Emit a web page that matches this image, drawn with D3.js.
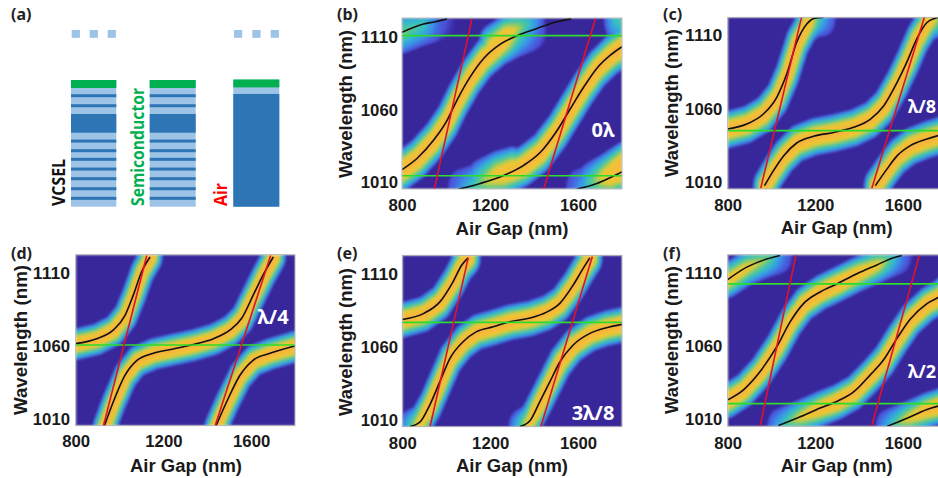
<!DOCTYPE html>
<html><head><meta charset="utf-8">
<script src="https://cdn.jsdelivr.net/npm/d3@7"></script>
<style>html,body{margin:0;padding:0;background:#fff;overflow:hidden}svg{display:block}</style>
</head><body><div id="chart"></div>
<script>
// ---- data: each curve point is [air gap nm, wavelength nm, heat strength 0..1] ----
const gapTicks = [800, 1200, 1600];
const wavelengthTicks = [1010, 1060, 1110];

const curvesB = [
  [[800,1113.7,.45],[898,1119.4,.3],[950,1121,.05],[1005,1123,0]],
  [[800,1019,1],[868,1026.7,1],[944,1039.4,1],[1005,1053,1],[1050,1067,1],[1110,1083,1],[1171,1095.7,1],[1247,1105.6,.9],[1323,1111.4,.4],[1414,1116.4,0],[1505,1121,0],[1569,1123,0]],
  [[1058,1005.6,.1],[1156,1009.5,.45],[1262,1015,.8],[1353,1022,1],[1429,1031,1],[1505,1046,1],[1565,1061,1],[1626,1076,1],[1686,1089,1],[1747,1098,1],[1800,1103.8,1]],
  [[1595,1005.6,.1],[1686,1009.5,.45],[1747,1013.6,.8],[1800,1017.5,.9]]
];
const heatExtraB = [
  [[1200,1105,.7],[1270,1112,.85],[1330,1117,.5],[1390,1121,.2]],
  [[1150,1012,.4],[1230,1018,.7],[1300,1021,.8]],
  [[1650,1010,.35],[1720,1016,.7],[1800,1024,.95]],
  [[1770,1122,.3],[1800,1120,.35]]
];
const redB = [[[947,1005.6],[1118,1123]],[[1444,1005.6],[1679,1123]]];
const greenB = [1111.4,1014.8];

const curvesC = [
  [[800,1046.4,1],[887,1049.8,1],[963,1056.6,1],[1024,1068,1],[1070,1084,1],[1115,1105.5,1],[1161,1118,.9],[1199,1122,.45],[1237,1122.5,.15]],
  [[968,1007.7,1],[1009,1018,1],[1055,1028,1],[1115,1036.8,1],[1192,1041.4,1],[1283,1044,1],[1375,1047.5,1],[1451,1053,1],[1512,1062,1],[1573,1078,1],[1618,1092,1],[1664,1108,1],[1710,1119,.9],[1763,1122.5,.4]],
  [[1474,1007.7,1],[1527,1019,1],[1573,1028,1],[1634,1035,1],[1710,1039.5,1],[1763,1042,1],[1800,1043.5,1]]
];
const redC = [[[951,1006],[1138,1123]],[[1458,1006],[1699,1123]]];
const greenC = [1045.2];

const curvesD = [
  [[800,1061.6,1],[896,1065,1],[972,1071,1],[1025,1081,1],[1063,1095,1],[1101,1111,1],[1139,1121,1]],
  [[931,1005.4,1],[972,1022,1],[1025,1040,1],[1078,1050,1],[1154,1055,1],[1245,1058,1],[1337,1061,1],[1428,1065,1],[1504,1071,1],[1557,1079,1],[1610,1095,1],[1656,1109,1],[1701,1121,1]],
  [[1440,1005.4,1],[1489,1022,1],[1549,1040,1],[1610,1050.4,1],[1686,1055,1],[1800,1060,1]]
];
const redD = [[[926,1005],[1124,1122]],[[1435,1005],[1689,1122]]];
const greenD = [1060.7];

const curvesE = [
  [[800,1079,1],[896,1083,1],[971,1091,1],[1032,1105,1],[1070,1116,1],[1100,1121,1]],
  [[835,1006,.3],[880,1009,.8],[926,1021,1],[971,1036.6,1],[1017,1052.5,1],[1078,1064,1],[1138,1070.7,1],[1214,1074,1],[1290,1077.5,1],[1381,1080,1],[1457,1084,1],[1517,1090,1],[1578,1102.5,1],[1624,1114,1],[1654,1121,1]],
  [[1335,1006,.3],[1381,1010,.8],[1426,1023,1],[1472,1036.6,1],[1517,1050,1],[1578,1061.6,1],[1654,1069.5,1],[1729,1073.4,1],[1800,1075.7,1]]
];
const redE = [[[926,1005.7],[1100,1121]],[[1430,1005.7],[1665,1122]]];
const greenE = [1077];

const curvesF = [
  [[800,1106,.8],[887,1114.5,.7],[978,1120,.45],[1039,1122.5,.1]],
  [[800,1023.6,1],[872,1030.5,1],[948,1043,1],[1024,1060,1],[1085,1077,1],[1146,1089.5,1],[1222,1097.5,1],[1298,1103,1],[1390,1110,.9],[1481,1116,.7],[1557,1121,.25],[1595,1122.5,0]],
  [[1032,1006,.2],[1131,1012,.65],[1222,1018,.9],[1298,1022.5,1],[1375,1029,1],[1451,1040.7,1],[1512,1051,1],[1573,1065.7,1],[1634,1079,1],[1710,1089.5,1],[1763,1094,1],[1800,1099,1]],
  [[1527,1005.4,.2],[1619,1011,.65],[1710,1017,.9],[1763,1019.5,1],[1800,1022,1]]
];
const redF = [[[948,1005.5],[1111,1122.5]],[[1457,1005.5],[1675,1122.5]]];
const greenF = [1103,1021];

// schematic (a): depth 0 = top of stack, 1 = bottom
const dbrLines = [.124,.203,.482,.558,.626,.703,.779,.858,.934];
const activeLayer = [.268,.416];
const capLayer = [0,.063];
const airLayer = [.11,1];
const stackNames = ["VCSEL","Semiconductor","Air"];

// colours along the heat value
const heatStops = [0,.015,.13,.26,.38,.5,.62,.8,1];
const heatColors = ["#38259b","#4a50d8","#3a90ea","#35bcc8","#55c890","#b0cc50","#ecc832","#f5bc3a","#f6b03c"];

// ---- layout ----
const W = 938, H = 478;
const panels = [
 {id:"b",curves:curvesB,extra:heatExtraB,red:redB,green:greenB,L:402,R:622,T:18,B:189,y0:182.7,y1:37.7,hx:12,hy:21,
  yl:{x:351.7,y:104,len:148},xl:{x:512,y:235,len:113},yr:398,xb:211,tag:{x:337,y:20,t:"(b)"},note:{t:"0λ",x:603,y:137,a:"middle",s:20}},
 {id:"c",curves:curvesC,extra:[],red:redC,green:greenC,L:727.7,R:946.7,T:17.3,B:189,y0:182.3,y1:35.7,hx:12,hy:19,
  yl:{x:678,y:103,len:148},xl:{x:836.7,y:234,len:112},yr:722.3,xb:210.7,tag:{x:663,y:20,t:"(c)"},note:{t:"λ/8",x:908,y:113,a:"start",s:18}},
 {id:"d",curves:curvesD,extra:[],red:redD,green:greenD,L:75.7,R:295,T:254.7,B:425.7,y0:419,y1:273,hx:12,hy:16,
  yl:{x:26.7,y:340,len:150},xl:{x:186,y:472,len:112},yr:70,xb:447,tag:{x:11,y:259,t:"(d)"},note:{t:"λ/4",x:273,y:324,a:"middle",s:20}},
 {id:"e",curves:curvesE,extra:[],red:redE,green:greenE,L:402.3,R:622,T:255.3,B:426.7,y0:420.7,y1:274,hx:12,hy:18,
  yl:{x:351.7,y:342,len:148},xl:{x:512,y:472,len:112},yr:398,xb:448.7,tag:{x:337,y:259,t:"(e)"},note:{t:"3λ/8",x:593,y:420,a:"middle",s:20}},
 {id:"f",curves:curvesF,extra:[],red:redF,green:greenF,L:727.7,R:946.7,T:254.7,B:426.3,y0:419.7,y1:273.7,hx:12,hy:18,
  yl:{x:678,y:340,len:148},xl:{x:836.7,y:472,len:112},yr:722.3,xb:448.7,tag:{x:663,y:259,t:"(f)"},note:{t:"λ/2",x:908,y:378,a:"start",s:18}}
];
const SANS = "'Liberation Sans',Arial,sans-serif";
const NOTE = "'Noto Sans','Open Sans',sans-serif";
const svg = d3.select("#chart").append("svg").attr("width",W).attr("height",H).attr("viewBox",`0 0 ${W} ${H}`);
svg.append("defs").append("filter").attr("id","soft").attr("x",0).attr("y",0).attr("width",1).attr("height",1)
  .append("feGaussianBlur").attr("stdDeviation",.8).attr("edgeMode","duplicate");
const heatColor = d3.scaleLinear().domain(heatStops).range(heatColors).clamp(true);

function heatImage(p,x,y){
  const w=Math.ceil(p.R-p.L), h=Math.ceil(p.B-p.T);
  const samples=[];
  p.curves.concat(p.extra).forEach(c=>{
    for(let i=0;i<c.length-1;i++){
      const a=c[i],b=c[i+1];
      if(a[2]===0&&b[2]===0) continue;
      const n=Math.max(2,Math.ceil(Math.hypot(x(b[0])-x(a[0]),y(b[1])-y(a[1]))/1.5));
      for(let k=0;k<=n;k++){const t=k/n;
        samples.push([x(a[0]+(b[0]-a[0])*t)-p.L,y(a[1]+(b[1]-a[1])*t)-p.T,a[2]+(b[2]-a[2])*t]);}
    }
  });
  const cv=document.createElement("canvas");cv.width=w;cv.height=h;
  const ctx=cv.getContext("2d"),img=ctx.createImageData(w,h);
  for(let j=0;j<h;j++)for(let i=0;i<w;i++){
    let v=0;
    for(const s of samples){
      if(s[2]<=v) continue;
      const dx=(i-s[0])/p.hx,dy=(j-s[1])/p.hy,d2=dx*dx+dy*dy;
      if(d2>=1) continue;
      const q=s[2]*(1-Math.sqrt(d2));
      if(q>v) v=q;
    }
    const c=d3.rgb(heatColor(v)),o=(j*w+i)*4;
    img.data[o]=c.r;img.data[o+1]=c.g;img.data[o+2]=c.b;img.data[o+3]=255;
  }
  ctx.putImageData(img,0,0);
  return {url:cv.toDataURL(),w,h};
}

panels.forEach(p=>{
  const x=d3.scaleLinear().domain([800,1800]).range([p.L,p.R]);
  const y=d3.scaleLinear().domain([1010,1110]).range([p.y0,p.y1]);
  svg.append("defs").append("clipPath").attr("id","clip-"+p.id).append("rect")
    .attr("x",p.L).attr("y",p.T).attr("width",p.R-p.L).attr("height",p.B-p.T);
  const g=svg.append("g").attr("clip-path",`url(#clip-${p.id})`);
  const im=heatImage(p,x,y);
  g.append("image").attr("href",im.url).attr("x",p.L).attr("y",p.T).attr("width",im.w).attr("height",im.h).attr("filter","url(#soft)");
  const line=d3.line().x(d=>x(d[0])).y(d=>y(d[1]));
  const smooth=d3.line().x(d=>x(d[0])).y(d=>y(d[1])).curve(d3.curveMonotoneX);
  g.selectAll("path.black").data(p.curves).join("path").attr("class","black").attr("d",smooth)
    .attr("fill","none").attr("stroke","#111").attr("stroke-width",1.6);
  g.selectAll("line.green").data(p.green).join("line").attr("class","green")
    .attr("x1",p.L).attr("x2",p.R).attr("y1",d=>y(d)).attr("y2",d=>y(d))
    .attr("stroke","#2bdc2b").attr("stroke-width",1.7);
  g.selectAll("path.red").data(p.red).join("path").attr("class","red").attr("d",line)
    .attr("fill","none").attr("stroke","#e0122e").attr("stroke-width",1.6);
  svg.append("rect").attr("x",p.L).attr("y",p.T).attr("width",p.R-p.L).attr("height",p.B-p.T)
    .attr("fill","none").attr("stroke","#a9a9a9").attr("stroke-width",.8);

  const ax=svg.append("g").attr("transform",`translate(0,${p.B})`)
    .call(d3.axisBottom(x).tickValues(gapTicks).tickFormat(d3.format("d")).tickSize(0).tickPadding(p.xb-p.B-11.7));
  ax.select(".domain").remove();
  ax.selectAll("text").attr("font-family",SANS).attr("font-weight","bold").attr("font-size",16.5).attr("fill","#1a1a1a")
    .each(function(d){d3.select(this).attr("textLength",String(d).length*9.3).attr("lengthAdjust","spacingAndGlyphs");});
  const ay=svg.append("g").attr("transform",`translate(${p.yr+4},0)`)
    .call(d3.axisLeft(y).tickValues(wavelengthTicks).tickFormat(d3.format("d")).tickSize(0).tickPadding(4));
  ay.select(".domain").remove();
  ay.selectAll("text").attr("font-family",SANS).attr("font-weight","bold").attr("font-size",16.5).attr("fill","#1a1a1a")
    .attr("textLength",37.2).attr("lengthAdjust","spacingAndGlyphs");

  svg.append("text").attr("transform",`translate(${p.yl.x},${p.yl.y}) rotate(-90)`).attr("text-anchor","middle")
    .attr("font-family",SANS).attr("font-weight","bold").attr("font-size",18).attr("fill","#1a1a1a")
    .attr("textLength",p.yl.len).attr("lengthAdjust","spacingAndGlyphs").text("Wavelength (nm)");
  svg.append("text").attr("x",p.xl.x).attr("y",p.xl.y).attr("text-anchor","middle")
    .attr("font-family",SANS).attr("font-weight","bold").attr("font-size",18).attr("fill","#1a1a1a")
    .attr("textLength",p.xl.len).attr("lengthAdjust","spacingAndGlyphs").text("Air Gap (nm)");
  svg.append("text").attr("x",p.tag.x).attr("y",p.tag.y).attr("font-family",NOTE).attr("font-weight","bold")
    .attr("font-size",16).attr("fill","#222").text(p.tag.t);
  svg.append("text").attr("x",p.note.x).attr("y",p.note.y).attr("text-anchor",p.note.a).attr("font-family",NOTE)
    .attr("font-weight","bold").attr("font-size",p.note.s).attr("fill","#fff").text(p.note.t);
});

// ---- schematic (a) ----
const stackY=d3.scaleLinear().domain([0,1]).range([80,206.7]);
const stackX=[{l:71,r:116.3},{l:149.7,r:195.7}];
const LIGHT="#9dc3e6",DARK="#2e75b6",GREEN="#00b050";
const sch=svg.append("g");
stackX.forEach(s=>{
  sch.append("rect").attr("x",s.l).attr("width",s.r-s.l).attr("y",stackY(0)).attr("height",stackY(1)-stackY(0)).attr("fill",LIGHT);
  sch.append("rect").attr("x",s.l).attr("width",s.r-s.l).attr("y",stackY(capLayer[0])).attr("height",stackY(capLayer[1])-stackY(capLayer[0])).attr("fill",GREEN);
  sch.append("rect").attr("x",s.l).attr("width",s.r-s.l).attr("y",stackY(activeLayer[0])).attr("height",stackY(activeLayer[1])-stackY(activeLayer[0])).attr("fill",DARK);
  sch.selectAll(null).data(dbrLines).join("rect").attr("x",s.l).attr("width",s.r-s.l)
    .attr("y",d=>stackY(d)-1.5).attr("height",3).attr("fill",DARK);
});
const air={l:233.3,r:279.3};
sch.append("rect").attr("x",air.l).attr("width",air.r-air.l).attr("y",stackY(0)).attr("height",stackY(1)-stackY(0)).attr("fill",LIGHT);
sch.append("rect").attr("x",air.l).attr("width",air.r-air.l).attr("y",stackY(capLayer[0])-.6).attr("height",stackY(capLayer[1])-stackY(capLayer[0])).attr("fill",GREEN);
sch.append("rect").attr("x",air.l).attr("width",air.r-air.l).attr("y",stackY(airLayer[0])).attr("height",stackY(airLayer[1])-stackY(airLayer[0])).attr("fill",DARK);
[71.7,89.7,107.7,234,252.3,270.7].forEach(d=>sch.append("rect").attr("x",d).attr("y",30).attr("width",8.2).attr("height",7.8).attr("fill",LIGHT));
[{t:stackNames[0],x:65,len:47,c:"#111"},{t:stackNames[1],x:144,len:118,c:GREEN},{t:stackNames[2],x:226.7,len:23,c:"#f00"}].forEach(d=>{
  svg.append("text").attr("transform",`translate(${d.x},206) rotate(-90)`).attr("font-family","'Open Sans',sans-serif")
    .attr("font-weight","bold").attr("font-size",17.5).attr("fill",d.c)
    .attr("textLength",d.len).attr("lengthAdjust","spacingAndGlyphs").text(d.t);
});
svg.append("text").attr("x",11).attr("y",20).attr("font-family",NOTE).attr("font-weight","bold").attr("font-size",16).attr("fill","#222").text("(a)");
</script></body></html>
